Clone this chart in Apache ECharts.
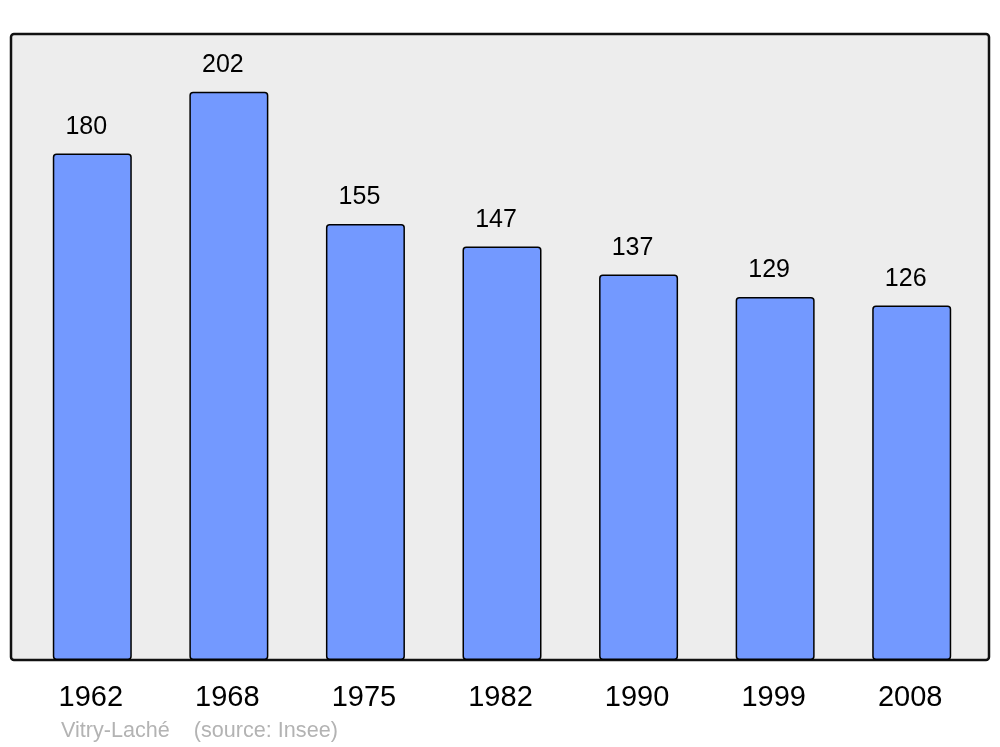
<!DOCTYPE html>
<html>
<head>
<meta charset="utf-8">
<script src="https://cdn.jsdelivr.net/npm/echarts@6/dist/echarts.min.js"></script>
<style>
  html, body { margin: 0; padding: 0; background: #fff; }
  #chart { width: 1000px; height: 747px; }
</style>
</head>
<body>
<div id="chart"></div>
<script>
const years = ['1962', '1968', '1975', '1982', '1990', '1999', '2008'];
const population = [180, 202, 155, 147, 137, 129, 126];
const footnote = 'Vitry-Laché    (source: Insee)';

const chart = echarts.init(document.getElementById('chart'));

chart.setOption({
  animation: false,
  textStyle: { fontFamily: 'Liberation Sans, Arial, sans-serif' },
  title: {
    text: footnote,
    left: 61,
    top: 720,
    padding: 0,
    textStyle: { fontSize: 21.6, fontWeight: 'normal', color: '#b3b3b3' },
  },
  graphic: [
    {
      type: 'rect',
      z: 0,
      shape: { x: 11, y: 34, width: 978, height: 626, r: 3 },
      style: { fill: '#ededed', stroke: '#111', lineWidth: 2.5 },
      silent: true,
    },
  ],
  grid: { left: 24, right: 20, top: 34, bottom: 87 },
  xAxis: {
    type: 'category',
    data: years,
    axisLine: { show: false },
    axisTick: { show: false },
    axisLabel: { fontSize: 29, color: '#000', margin: 23, padding: [0, 3, 0, 0] },
  },
  yAxis: {
    type: 'value',
    min: 0,
    max: 222.5,
    show: false,
    splitLine: { show: false },
  },
  series: [
    {
      type: 'bar',
      data: population,
      barWidth: 79,
      itemStyle: {
        color: '#7399ff',
        borderColor: '#000',
        borderWidth: 1.5,
        borderRadius: 3,
      },
      label: {
        show: true,
        position: 'top',
        distance: 14,
        offset: [-6, 0],
        fontSize: 25,
        color: '#000',
      },
    },
  ],
});
</script>
</body>
</html>
